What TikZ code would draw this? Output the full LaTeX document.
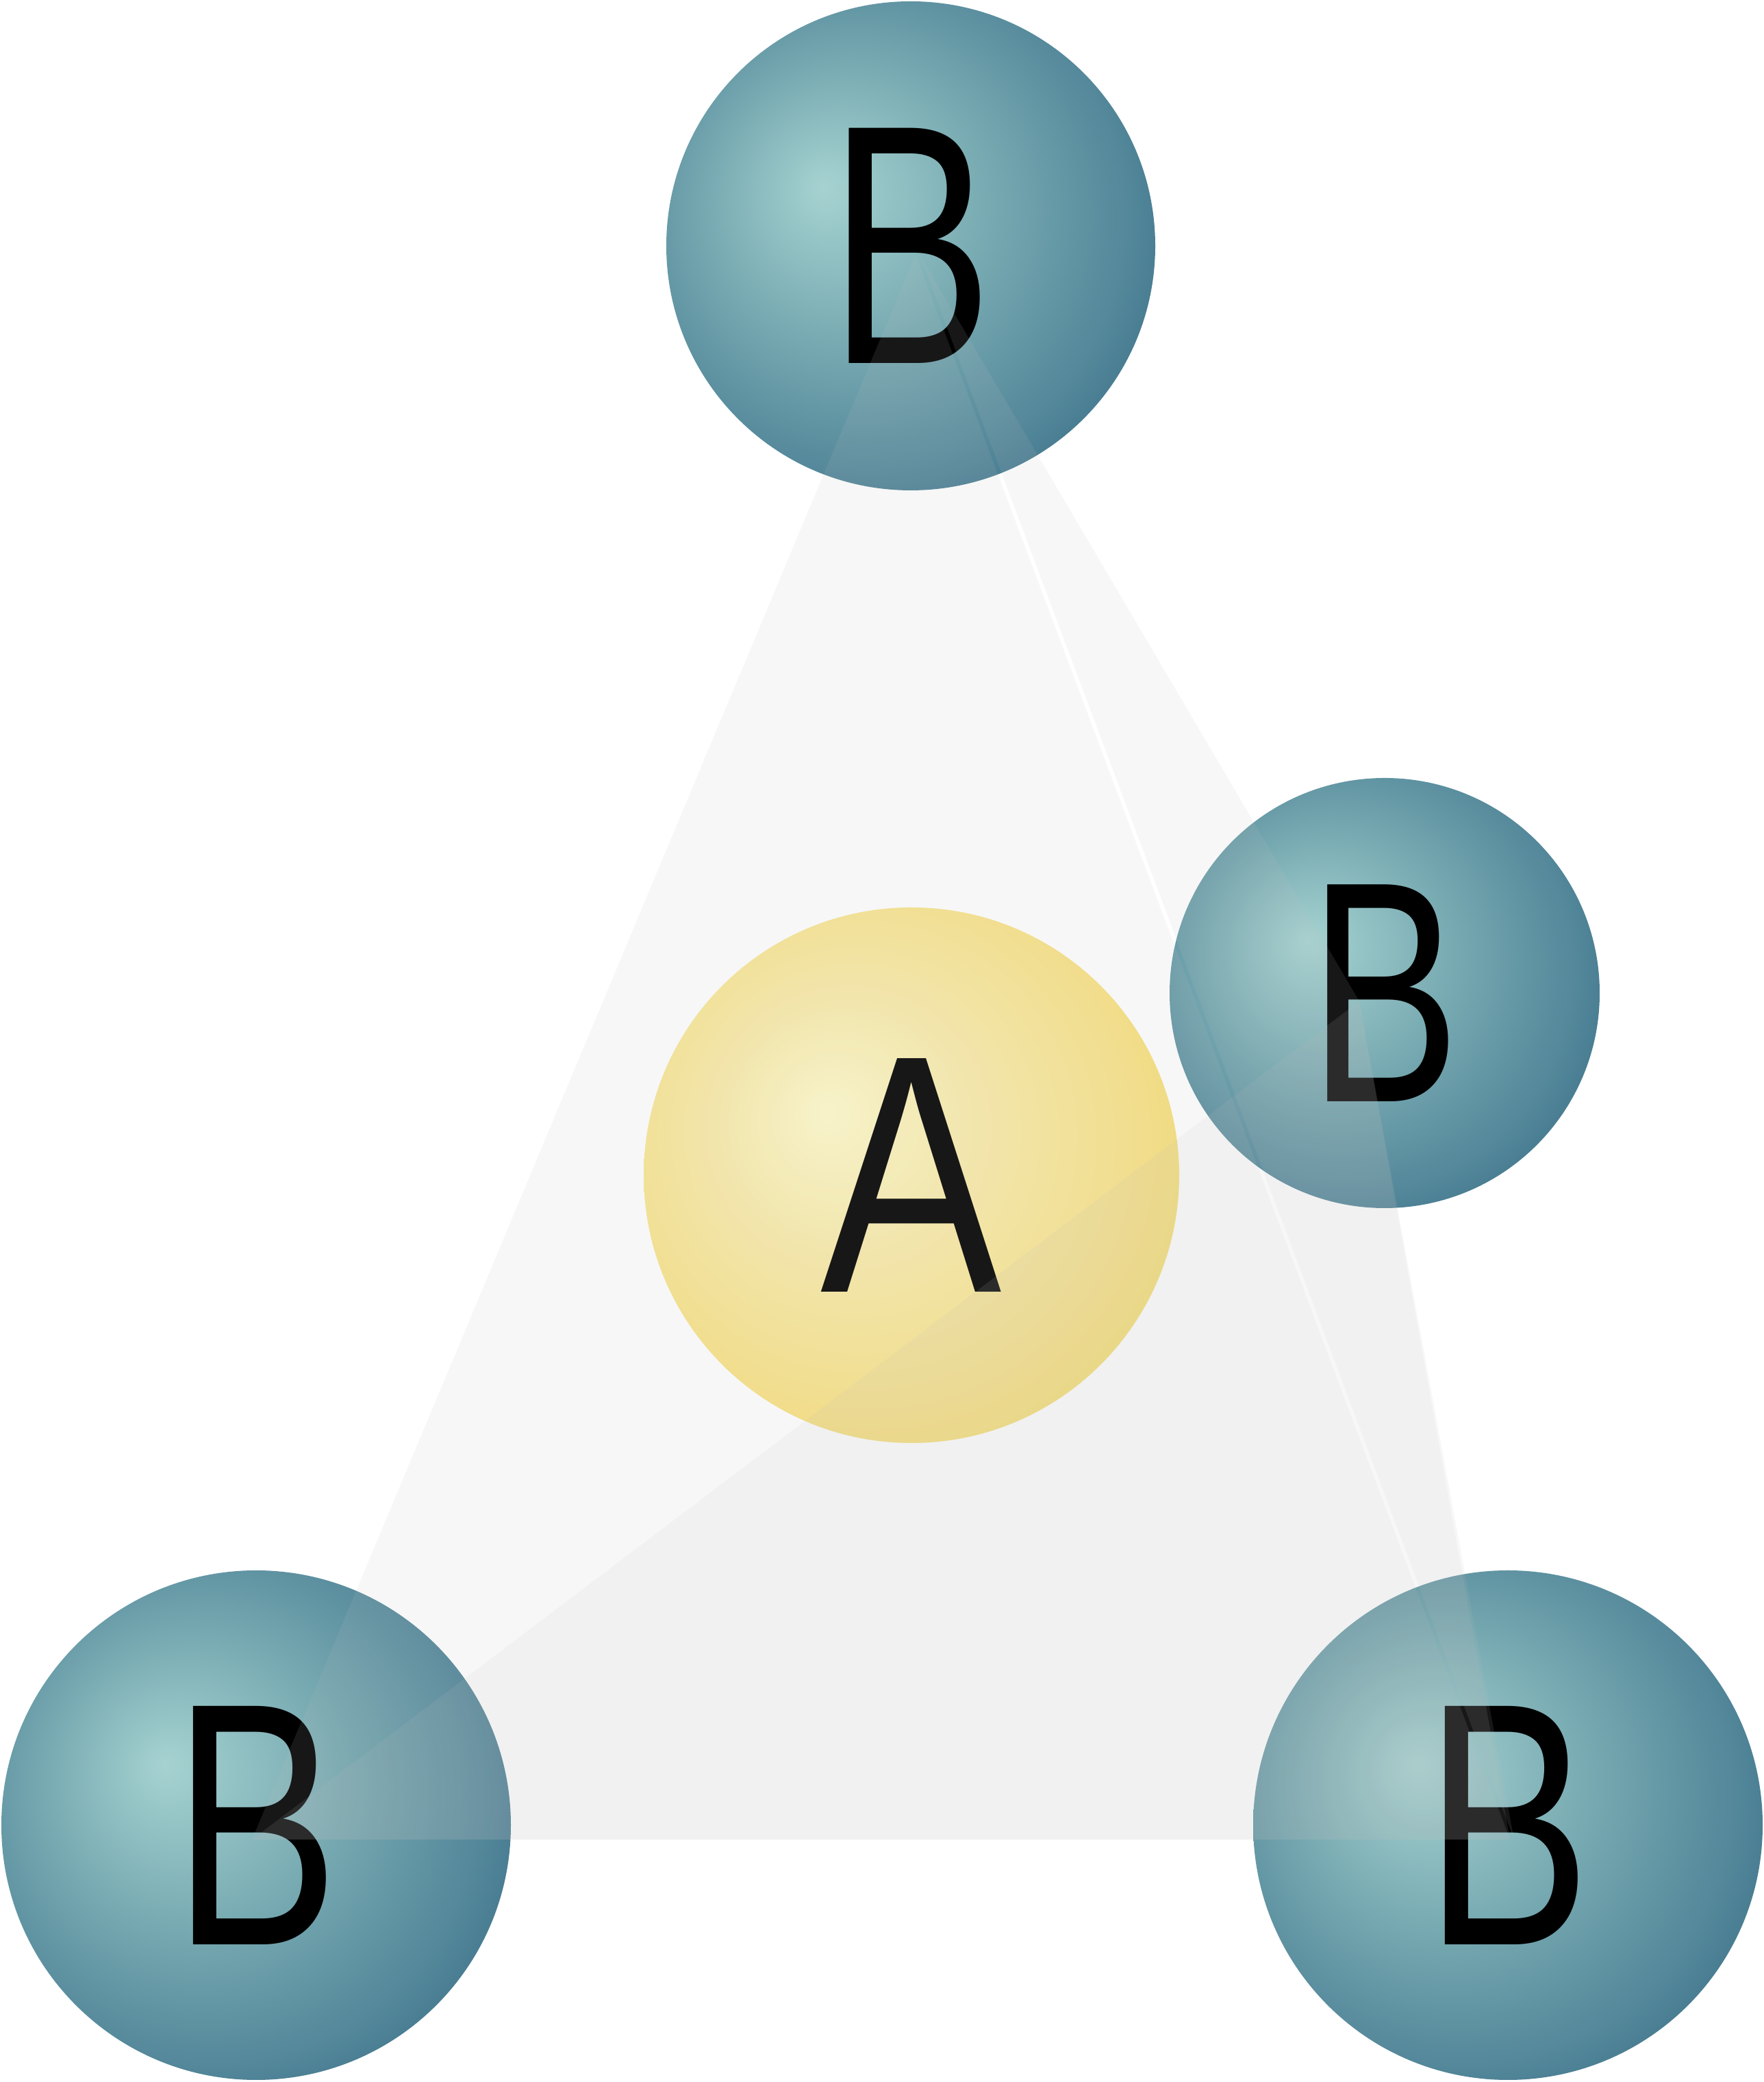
\documentclass[tikz,border=0pt]{standalone}
\usepackage{fontspec}
\usepackage{graphicx}
\setmainfont{Liberation Sans}
\definecolor{tealL}{HTML}{A6D3D1}
\definecolor{tealM}{HTML}{72A5AE}
\definecolor{tealN}{HTML}{55899B}
\definecolor{tealD}{HTML}{336682}
\definecolor{yelL}{HTML}{FFFACC}
\definecolor{yelM}{HTML}{F9EBAA}
\definecolor{yelN}{HTML}{F8E38A}
\definecolor{yelD}{HTML}{F6DC62}
\definecolor{facegray}{HTML}{C0C0C0}
\pgfdeclareradialshading{tealball}{\pgfpoint{-9bp}{6bp}}{color(0bp)=(tealL); color(16bp)=(tealM); color(26bp)=(tealN); color(36bp)=(tealD); color(50bp)=(tealD)}
\pgfdeclareradialshading{yellowball}{\pgfpoint{-8bp}{6bp}}{color(0bp)=(yelL); color(12bp)=(yelM); color(24bp)=(yelN); color(36bp)=(yelD); color(50bp)=(yelD)}
\tikzset{
  atomB/.style={circle, inner sep=0pt, shading=tealball},
  atomA/.style={circle, inner sep=0pt, shading=yellowball},
  face/.style={fill=facegray, fill opacity=0.12}
}
\newcommand{\letB}[1]{\fontsize{#1}{#1}\selectfont\scalebox{0.72}[1]{B}}
\newcommand{\letA}[1]{\fontsize{#1}{#1}\selectfont\scalebox{0.8}[1]{A}}

\begin{document}
\begin{tikzpicture}
    \useasboundingbox (0,0) rectangle (25.76,30.40);
    % atoms
    \node[atomB, minimum size=7.14cm] (btop) at (13.30,26.81) {\letB{142pt}};
    \node[atomB, minimum size=6.28cm] (bback) at (20.22,15.90) {\letB{131pt}};
    \node[atomA, minimum size=7.82cm] (a) at (13.31,13.24) {\letA{141pt}};
    \node[atomB, minimum size=7.44cm] (bleft) at (3.74,3.75) {\letB{144pt}};
    \node[atomB, minimum size=7.44cm] (bright) at (22.02,3.75) {\letB{144pt}};
    % corners of the tetrahedron
    \coordinate (t) at (13.37,26.68);
    \coordinate (r) at (19.85,15.78);
    \coordinate (bl) at (3.68,3.54);
    \coordinate (br) at (22.05,3.54);
    % faces
    \fill[face] (t) -- (bl) -- (br) -- cycle;
    \fill[face] ([xshift=0.06cm]t) -- (r) -- ([xshift=0.06cm]br) -- cycle;
    \fill[face] (bl) -- (r) -- (br) -- cycle;
\end{tikzpicture}
\end{document}
